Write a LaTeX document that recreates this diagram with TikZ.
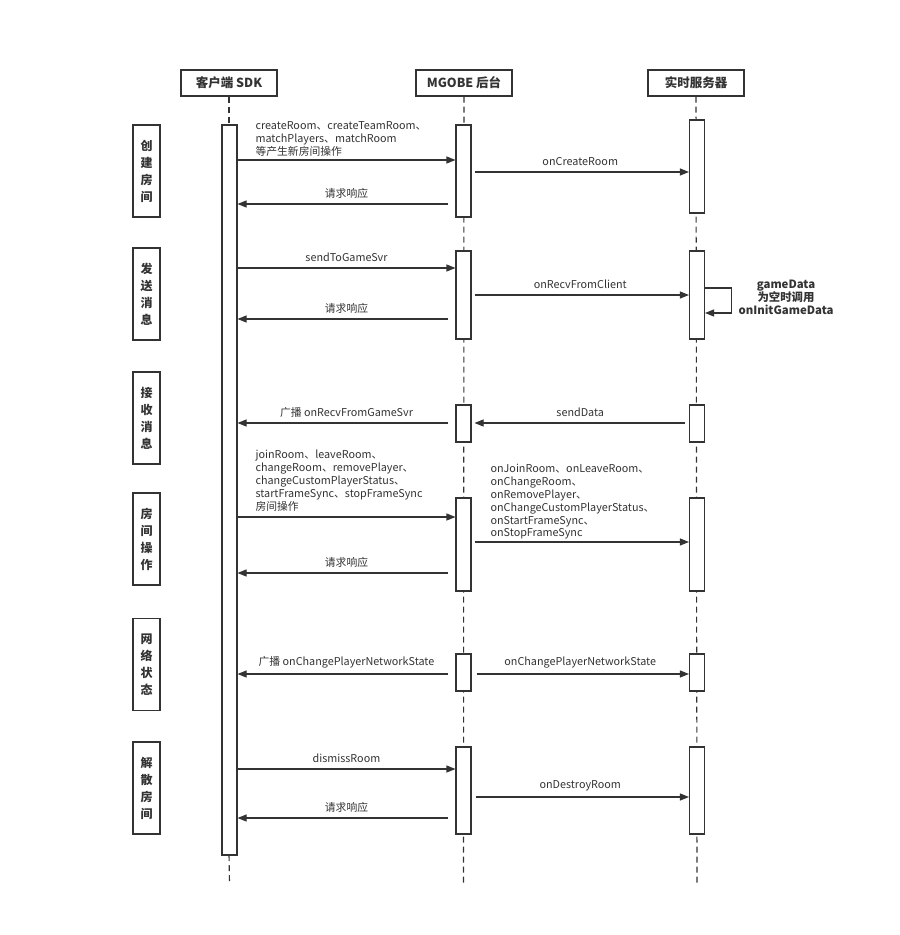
\documentclass[tikz,border=0pt]{standalone}
\usepackage{fontspec}
\setmainfont{Noto Sans CJK SC}
\usetikzlibrary{arrows.meta,positioning}
\definecolor{ink}{HTML}{333333}

\begin{document}
\begin{tikzpicture}[x=1pt,y=-1pt,>={Triangle[length=9pt,width=7pt]},color=ink,line width=1.1pt,
        font=\fontsize{10.8}{12.5}\selectfont,
        actor/.style={draw,line width=1.4pt,minimum width=96pt,minimum height=26pt,inner sep=0pt,font=\fontsize{12.5}{14}\selectfont\bfseries},
        act/.style={draw,fill=white,minimum width=15pt,inner sep=0pt},
        phase/.style={draw,line width=1.4pt,minimum width=27pt,minimum height=92pt,inner sep=0pt,align=center,font=\fontsize{12}{17}\selectfont\bfseries},
        life/.style={dash pattern=on 6pt off 4pt},
        msg/.style={->},
        lbl/.style={above=2pt},
        note/.style={align=left,anchor=south west,inner sep=0pt,font=\fontsize{10.8}{12.9}\selectfont}]

    \useasboundingbox (0,0) rectangle (900,935);

    \node[actor] (sdk) at (229,83) {客户端 SDK};
    \node[actor] (mgobe) at (464,83) {MGOBE 后台};
    \node[actor] (rts) at (696,83) {实时服务器};

    \coordinate (sdkend) at (229.5,882);
    \coordinate (mgobeend) at (463.5,884);
    \coordinate (rtsend) at (697,885);

    \draw[life] (sdk) -- (sdk |- 0,125);
    \draw[life] (sdk |- 0,855) -- (sdkend);
    \draw[life] (mgobe) -- (mgobeend);
    \draw[life] (rts) -- (rtsend);

    \node[act,minimum height=730pt] (sdkact) at (229.5,490) {};

    \node[act,minimum height=92pt] (m1) at (463.5,171) {};
    \node[act,minimum height=88pt] (m2) at (463.5,295) {};
    \node[act,minimum height=37pt] (m3) at (463.5,423.5) {};
    \node[act,minimum height=93pt] (m4) at (463.5,544.5) {};
    \node[act,minimum height=37pt] (m5) at (463.5,672.5) {};
    \node[act,minimum height=87pt] (m6) at (463.5,790.5) {};

    \node[act,minimum height=93pt] (s1) at (697,166.5) {};
    \node[act,minimum height=88pt] (s2) at (697,295) {};
    \node[act,minimum height=37pt] (s3) at (697,423.5) {};
    \node[act,minimum height=93pt] (s4) at (697,544.5) {};
    \node[act,minimum height=37pt] (s5) at (697,672.5) {};
    \node[act,minimum height=87pt] (s6) at (697,790.5) {};

    \node[phase] (create) at (146.5,171) {创\\建\\房\\间};
    \node[phase] (send) at (146.5,294) {发\\送\\消\\息};
    \node[phase] (recv) at (146.5,418) {接\\收\\消\\息};
    \node[phase] (roomop) at (146.5,539) {房\\间\\操\\作};
    \node[phase] (net) at (146.5,664.5) {网\\络\\状\\态};
    \node[phase] (dismiss) at (146.5,788) {解\\散\\房\\间};

    \draw[msg] (sdkact.east |- 0,160) -- (m1.west |- 0,160);
    \node[note] (createnote) at (255,157) {createRoom、createTeamRoom、\\matchPlayers、matchRoom\\等产生新房间操作};
    \draw[msg,shorten <=7pt] (m1.west |- 0,204) -- node[lbl] {请求响应} (sdkact.east |- 0,204);
    \draw[msg,shorten <=3pt] (m1.east |- 0,172) -- node[lbl] {onCreateRoom} (s1.west |- 0,172);

    \draw[msg] (sdkact.east |- 0,268) -- node[lbl] {sendToGameSvr} (m2.west |- 0,268);
    \draw[msg,shorten <=3pt] (m2.east |- 0,295) -- node[lbl] {onRecvFromClient} (s2.west |- 0,295);
    \draw[msg] (s2.east |- 0,288) -- ++(26,0) |- (s2.east |- 0,313);
    \node[align=center,font=\fontsize{11.4}{13}\selectfont\bfseries] (initnote) at (786,297) {gameData\\为空时调用\\onInitGameData};
    \draw[msg,shorten <=7pt] (m2.west |- 0,319) -- node[lbl] {请求响应} (sdkact.east |- 0,319);

    \draw[msg,shorten <=7pt] (m3.west |- 0,423) -- node[lbl] {广播 onRecvFromGameSvr} (sdkact.east |- 0,423);
    \draw[msg,shorten <=4pt,shorten >=3pt] (s3.west |- 0,423) -- node[lbl] {sendData} (m3.east |- 0,423);

    \draw[msg] (sdkact.east |- 0,517) -- (m4.west |- 0,517);
    \node[note] (opnote) at (255,512) {joinRoom、leaveRoom、\\changeRoom、removePlayer、\\changeCustomPlayerStatus、\\startFrameSync、stopFrameSync\\房间操作};
    \draw[msg,shorten <=3pt] (m4.east |- 0,542) -- (s4.west |- 0,542);
    \node[note] (onopnote) at (490,540) {onJoinRoom、onLeaveRoom、\\onChangeRoom、\\onRemovePlayer、\\onChangeCustomPlayerStatus、\\onStartFrameSync、\\onStopFrameSync};
    \draw[msg,shorten <=7pt] (m4.west |- 0,573) -- node[lbl] {请求响应} (sdkact.east |- 0,573);

    \draw[msg,shorten <=7pt] (m5.west |- 0,674) -- node[lbl] {广播 onChangePlayerNetworkState} (sdkact.east |- 0,674);
    \draw[msg,shorten <=5pt] (m5.east |- 0,674) -- node[lbl] {onChangePlayerNetworkState} (s5.west |- 0,674);

    \draw[msg] (sdkact.east |- 0,769) -- node[lbl] {dismissRoom} (m6.west |- 0,769);
    \draw[msg,shorten <=4pt] (m6.east |- 0,797) -- node[lbl] {onDestroyRoom} (s6.west |- 0,797);
    \draw[msg,shorten <=7pt] (m6.west |- 0,818) -- node[lbl] {请求响应} (sdkact.east |- 0,818);

\end{tikzpicture}
\end{document}
